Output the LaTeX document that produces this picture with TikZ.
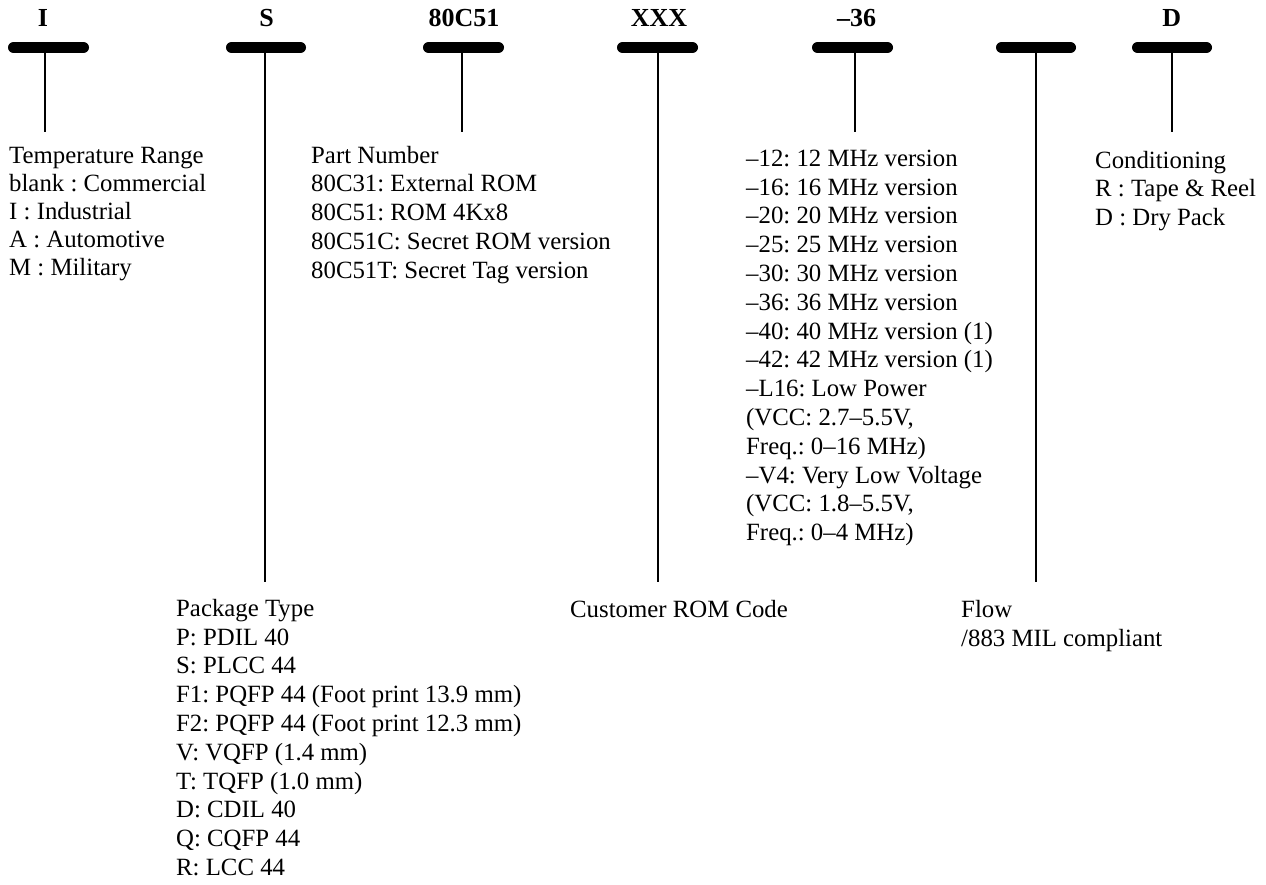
\documentclass[tikz,border=0pt]{standalone}
\usepackage{fontspec}
\setmainfont{Liberation Serif}
\frenchspacing
\begin{document}
\begin{tikzpicture}[x=1pt,y=-1pt,
  bar/.style={line width=11.5pt, line cap=round},
  stem/.style={line width=2pt},
  lbl/.style={anchor=base, inner sep=0pt, font=\fontsize{26}{30}\selectfont\bfseries},
  blk/.style={anchor=north west, align=left, inner sep=0pt, font=\frenchspacing\fontsize{24.8}{28.8}\selectfont}]
\useasboundingbox (0,0) rectangle (1266,885);

% top labels
\node[lbl] (lI) at (43,26.5) {I};
\node[lbl] (lS) at (266.7,26.5) {S};
\node[lbl] (lP) at (464,26.5) {80C51};
\node[lbl] (lX) at (659,26.5) {XXX};
\node[lbl] (lF) at (856.7,26.5) {–36};
\node[lbl] (lD) at (1171.7,26.5) {D};

% bars
\draw[bar] (13.75,47.5) -- (83.25,47.5);
\draw[bar] (231.75,47.5) -- (300.25,47.5);
\draw[bar] (428.75,47.5) -- (498.25,47.5);
\draw[bar] (622.75,47.5) -- (692.25,47.5);
\draw[bar] (817.75,47.5) -- (887.25,47.5);
\draw[bar] (1001.75,47.5) -- (1070.25,47.5);
\draw[bar] (1137.75,47.5) -- (1206.25,47.5);

% stems
\coordinate (bI) at (45,47.5);     \coordinate (eI) at (45,132);
\coordinate (bS) at (265,47.5);    \coordinate (eS) at (265,582);
\coordinate (bP) at (461.5,47.5);  \coordinate (eP) at (461.5,132);
\coordinate (bX) at (658.3,47.5);  \coordinate (eX) at (658.3,582);
\coordinate (bF) at (855,47.5);    \coordinate (eF) at (855,132);
\coordinate (bW) at (1036,47.5);   \coordinate (eW) at (1036,582);
\coordinate (bD) at (1172,47.5);   \coordinate (eD) at (1172,132);
\foreach \n in {I,S,P,X,F,W,D} \draw[stem] (b\n) -- (e\n);

% text blocks
\node[blk, font=\frenchspacing\fontsize{24.8}{28}\selectfont] (tI) at (9,143) {\rule{0pt}{20pt}Temperature Range\\blank : Commercial\\I : Industrial\\A : Automotive\\M : Military};
\node[blk] (tP) at (311,143) {\rule{0pt}{20pt}Part Number\\80C31: External ROM\\80C51: ROM 4Kx8\\80C51C: Secret ROM version\\80C51T: Secret Tag version};
\node[blk] (tF) at (746,146) {\rule{0pt}{20pt}–12: 12 MHz version\\–16: 16 MHz version\\–20: 20 MHz version\\–25: 25 MHz version\\–30: 30 MHz version\\–36: 36 MHz version\\–40: 40 MHz version (1)\\–42: 42 MHz version (1)\\–L16: Low Power\\(VCC: 2.7–5.5V,\\Freq.: 0–16 MHz)\\–V4: Very Low Voltage\\(VCC: 1.8–5.5V,\\Freq.: 0–4 MHz)};
\node[blk] (tD) at (1095,148) {\rule{0pt}{20pt}Conditioning\\R : Tape \& Reel\\D : Dry Pack};
\node[blk] (tS) at (176,596) {\rule{0pt}{20pt}Package Type\\P: PDIL 40\\S: PLCC 44\\F1: PQFP 44 (Foot print 13.9 mm)\\F2: PQFP 44 (Foot print 12.3 mm)\\V: VQFP (1.4 mm)\\T: TQFP (1.0 mm)\\D: CDIL 40\\Q: CQFP 44\\R: LCC 44};
\node[blk] (tX) at (570,597) {\rule{0pt}{20pt}Customer ROM Code};
\node[blk] (tW) at (961,597) {\rule{0pt}{20pt}Flow\\/883 MIL compliant};
\end{tikzpicture}
\end{document}
